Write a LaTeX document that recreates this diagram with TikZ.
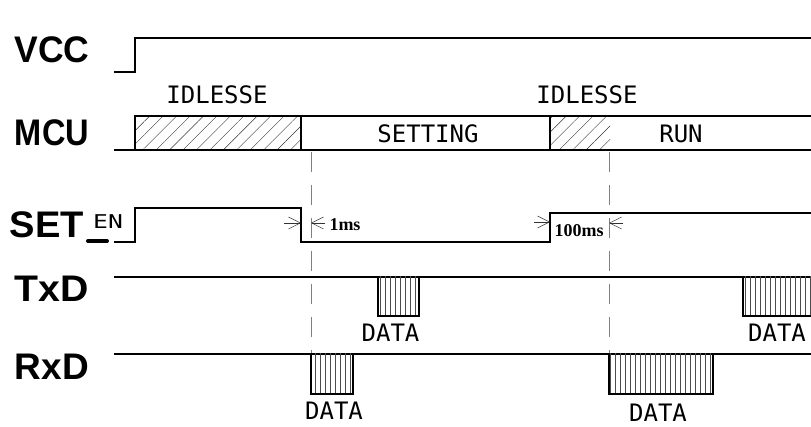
\documentclass[tikz,border=0pt]{standalone}
\usepackage{fontspec}
\setmainfont{Liberation Serif}
\newfontfamily\sigfont{Liberation Sans}
\newfontfamily\cadfont{DejaVu Sans Mono}
\usetikzlibrary{arrows.meta,patterns.meta,positioning}

\begin{document}
\begin{tikzpicture}
[x=1pt, y=-1pt,
sigline/.style={line width=2.2pt, black},
pulse/.style={line width=1.6pt, black},
guide/.style={line width=1pt, black!50, dash pattern=on 20pt off 13pt},
dim/.style={line width=.5pt, black!80, -{Straight Barb[length=12pt,width=12pt,line width=.5pt]}},
idlehatch/.style={pattern={Lines[angle=45,distance=9.5pt,line width=.4pt]}, pattern color=black!80},
datahatch/.style={pattern={Lines[angle=90,distance=5pt,line width=.7pt]}, pattern color=black!70},
signame/.style={font=\sigfont\bfseries\fontsize{37}{37}\selectfont, inner sep=0pt},
cadtext/.style={font=\cadfont\fontsize{24}{24}\selectfont, inner sep=0pt},
mstext/.style={font=\bfseries\fontsize{18}{18}\selectfont, inner sep=0pt}]
\useasboundingbox (0,0) rectangle (811,427);
% signal names
\node[signame,xscale=.96] (VCC) at (52,50) {VCC};
\node[signame,xscale=.88] (MCU) at (52,133) {MCU};
\node[signame,xscale=1.03] (SET) at (47,225) {SET};
\node[signame,xscale=1.06] (TxD) at (52,289) {TxD};
\node[signame] (RxD) at (52,367) {RxD};
\node[cadtext,font=\cadfont\fontsize{19}{19}\selectfont,xscale=1.3] (EN) at (108,222) {EN};
\coordinate (barA) at (88,241);
\coordinate (barB) at (107,241);
\draw[line width=4pt, line cap=round] (barA) -- (barB);
% hatched idle phases
\fill[idlehatch] (135,116) rectangle (301,150);
\fill[idlehatch] (550,116) rectangle (610,150);
% guides
\draw[guide] (311,152) -- (311,354);
\draw[guide] (609,152) -- (609,354);
% waveforms
\draw[sigline] (114,72) -- (135,72) -- (135,38) -- (811,38);
\draw[sigline] (114,150) -- (811,150);
\draw[sigline] (135,150) -- (135,116) -- (811,116);
\draw[sigline] (301,116) -- (301,150);
\draw[sigline] (550,116) -- (550,150);
\draw[sigline] (114,242) -- (135,242) -- (135,208) -- (301,208) -- (301,242) -- (550,242) -- (550,213) -- (811,213);
\draw[sigline] (114,277) -- (811,277);
\draw[sigline] (114,354) -- (811,354);
% data frames
\foreach \xa/\xb/\ya/\yb in {378/419/277/316, 743/815/277/316, 311/353/354/394, 609/713/354/394}{
\fill[datahatch] (\xa,\ya) rectangle (\xb,\yb);
\draw[pulse] (\xa,\ya) -- (\xa,\yb) -- (\xb,\yb) -- (\xb,\ya);
}
% texts
\node[cadtext] (idleA) at (217,94.5) {IDLESSE};
\node[cadtext] (idleB) at (587,94.5) {IDLESSE};
\node[cadtext] (setting) at (428,133.5) {SETTING};
\node[cadtext] (run) at (681,133.5) {RUN};
\node[cadtext] (dataA) at (390.5,332.5) {DATA};
\node[cadtext] (dataB) at (777,332.5) {DATA};
\node[cadtext] (dataC) at (334,411) {DATA};
\node[cadtext] (dataD) at (658,412.5) {DATA};
\node[mstext] (msA) at (345,225) {1ms};
\node[mstext] (msB) at (579,231) {100ms};
% dimension arrows
\coordinate (dimA) at (284,223);
\coordinate (dimB) at (301,223);
\coordinate (dimC) at (325,223);
\coordinate (dimD) at (311,223);
\coordinate (dimE) at (534,222);
\coordinate (dimF) at (550,222);
\coordinate (dimG) at (623,223);
\coordinate (dimH) at (609,223);
\draw[dim] (dimA) -- (dimB);
\draw[dim] (dimC) -- (dimD);
\draw[dim] (dimE) -- (dimF);
\draw[dim] (dimG) -- (dimH);
\end{tikzpicture}
\end{document}
